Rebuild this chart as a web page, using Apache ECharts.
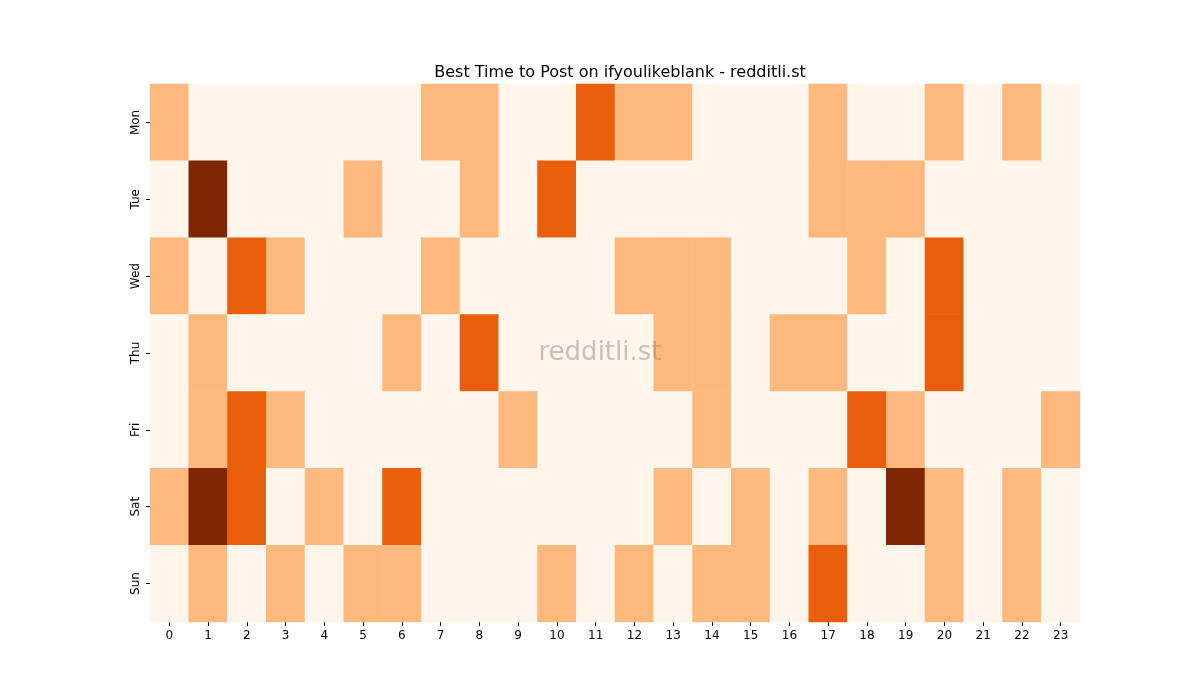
<!DOCTYPE html>
<html><head><meta charset="utf-8">
<script src="https://cdn.jsdelivr.net/npm/echarts@6/dist/echarts.min.js"></script>
<style>html,body{margin:0;padding:0;background:#fff}#c{width:1200px;height:700px}</style>
</head><body><div id="c"></div>
<script>
const hours = ["0","1","2","3","4","5","6","7","8","9","10","11","12","13","14","15","16","17","18","19","20","21","22","23"];
const days = ["Mon","Tue","Wed","Thu","Fri","Sat","Sun"];
const mon = [1,0,0,0,0,0,0,1,1,0,0,2,1,1,0,0,0,1,0,0,1,0,1,0];
const tue = [0,3,0,0,0,1,0,0,1,0,2,0,0,0,0,0,0,1,1,1,0,0,0,0];
const wed = [1,0,2,1,0,0,0,1,0,0,0,0,1,1,1,0,0,0,1,0,2,0,0,0];
const thu = [0,1,0,0,0,0,1,0,2,0,0,0,0,1,1,0,1,1,0,0,2,0,0,0];
const fri = [0,1,2,1,0,0,0,0,0,1,0,0,0,0,1,0,0,0,2,1,0,0,0,1];
const sat = [1,3,2,0,1,0,2,0,0,0,0,0,0,1,0,1,0,1,0,3,1,0,1,0];
const sun = [0,1,0,1,0,1,1,0,0,0,1,0,1,0,1,1,0,2,0,0,1,0,1,0];
const rows = [mon,tue,wed,thu,fri,sat,sun];
const data = [];
rows.forEach((r,yi)=>r.forEach((v,xi)=>data.push([xi,yi,v])));
const chart = echarts.init(document.getElementById('c'));
chart.setOption({
  animation:false,
  title:{text:'Best Time to Post on ifyoulikeblank - redditli.st',left:615,top:60,textAlign:'center',
    textStyle:{fontSize:16,fontWeight:'normal',color:'#000',fontFamily:'DejaVu Sans'}},
  grid:{left:150,right:120,top:84,bottom:78},
  xAxis:{type:'category',data:hours,axisLine:{show:false},splitArea:{show:false},
    axisTick:{show:true,alignWithLabel:true,length:4,lineStyle:{color:'#000'}},
    axisLabel:{color:'#000',fontSize:12,fontFamily:'DejaVu Sans'}},
  yAxis:{type:'category',data:days,inverse:true,axisLine:{show:false},
    axisTick:{show:true,alignWithLabel:true,length:4,lineStyle:{color:'#000'}},
    axisLabel:{color:'#000',fontSize:12,rotate:90,fontFamily:'DejaVu Sans'}},
  visualMap:{show:false,type:'piecewise',pieces:[
    {value:0,color:'#fff5eb'},{value:1,color:'#fdb97d'},{value:2,color:'#e95e0d'},{value:3,color:'#7f2704'}]},
  series:[{type:'heatmap',data:data,itemStyle:{borderWidth:0}}],
  graphic:[{type:'text',left:'center',x:0,style:{text:'redditli.st',x:615,y:353,textAlign:'center',textVerticalAlign:'middle',
    fontSize:26,fontFamily:'DejaVu Sans',fill:'rgba(128,128,128,0.45)'},z:100,position:[0,0]}]
});
</script></body></html>
